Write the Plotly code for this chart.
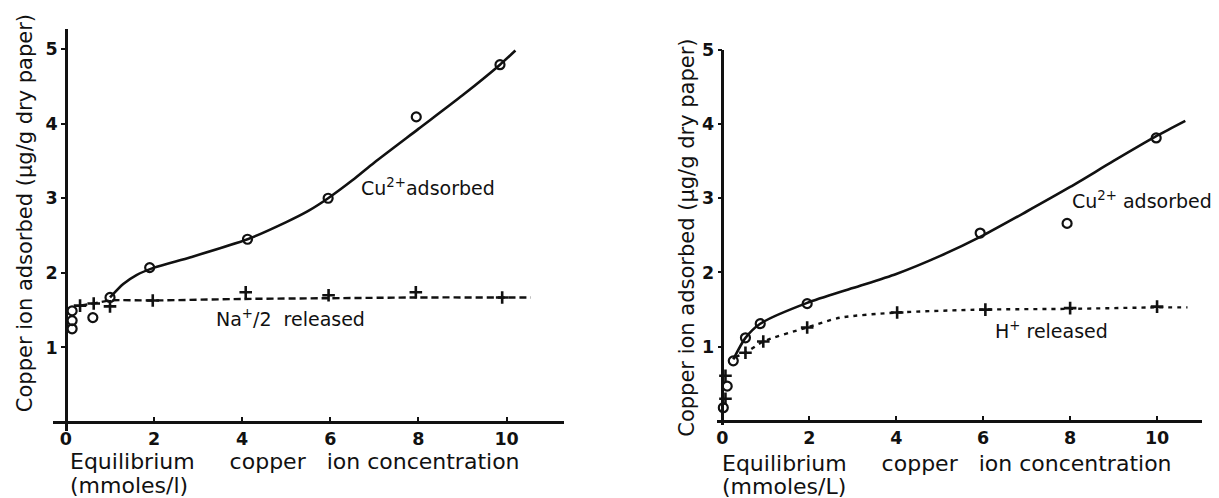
import plotly.graph_objects as go

W, H = 1219, 498

# ---------------- Left panel data (Na+ form paper) ----------------
left_cu_x = [0.14, 0.14, 0.14, 0.61, 1.0, 1.9, 4.12, 5.95, 7.95, 9.85]
left_cu_y = [1.25, 1.36, 1.49, 1.40, 1.67, 2.07, 2.45, 3.00, 4.09, 4.79]
left_na_x = [0.32, 0.63, 1.0, 1.97, 4.08, 5.96, 7.94, 9.9]
left_na_y = [1.56, 1.59, 1.55, 1.63, 1.74, 1.70, 1.74, 1.67]
left_cu_curve_x = [1.0, 1.3, 1.6, 2.0, 2.83, 4.12, 5.0, 5.5, 5.95, 6.5, 7.0, 8.0, 9.0, 9.85, 10.2]
left_cu_curve_y = [1.67, 1.85, 1.97, 2.07, 2.21, 2.45, 2.68, 2.83, 3.00, 3.24, 3.48, 3.93, 4.38, 4.79, 4.98]
left_na_curve_x = [0.32, 0.63, 1.0, 2.0, 4.0, 6.0, 8.0, 10.0, 10.55]
left_na_curve_y = [1.56, 1.59, 1.63, 1.63, 1.65, 1.66, 1.67, 1.67, 1.67]

# ---------------- Right panel data (H+ form paper) ----------------
right_cu_x = [0.02, 0.11, 0.25, 0.53, 0.87, 1.95, 5.93, 7.93, 9.98]
right_cu_y = [0.18, 0.47, 0.81, 1.12, 1.31, 1.58, 2.53, 2.66, 3.81]
right_h_x = [0.07, 0.07, 0.53, 0.94, 1.95, 4.02, 6.05, 8.0, 10.0]
right_h_y = [0.30, 0.61, 0.92, 1.07, 1.26, 1.46, 1.50, 1.52, 1.54]
right_cu_curve_x = [0.25, 0.53, 0.87, 1.95, 3.0, 4.0, 5.0, 6.0, 7.0, 8.0, 9.0, 10.0, 10.65]
right_cu_curve_y = [0.83, 1.12, 1.31, 1.59, 1.79, 1.98, 2.22, 2.50, 2.82, 3.15, 3.50, 3.84, 4.04]
right_h_curve_x = [0.30, 0.53, 0.94, 1.95, 2.7, 4.0, 6.0, 8.0, 10.0, 10.7]
right_h_curve_y = [0.86, 0.92, 1.07, 1.26, 1.39, 1.46, 1.50, 1.51, 1.53, 1.53]

x_ticks = [0, 2, 4, 6, 8, 10]
y_ticks = [1, 2, 3, 4, 5]

y_title = "Copper ion adsorbed (\u03bcg/g dry paper)"
x_title_line1 = "Equilibrium\u00a0\u00a0\u00a0\u00a0 copper\u00a0\u00a0 ion concentration"
x_title_line2_left = "(mmoles/l)"
x_title_line2_right = "(mmoles/L)"

INK = "#111111"
FONT = "DejaVu Sans"

# calibration of page pixels -> paper fractions
OFF_X, OFF_Y, PH = 8.0, 18.6, 486.0

def px(X):
    return (X - OFF_X) / W

def py(Y):
    return 1 - (Y - OFF_Y) / PH

fig = go.Figure()

def circles(x, y, xa, ya):
    return go.Scatter(x=x, y=y, mode="markers", xaxis=xa, yaxis=ya,
                      marker=dict(symbol="circle-open", size=9, color=INK,
                                  line=dict(width=2.2, color=INK)),
                      showlegend=False, hoverinfo="skip")

def pluses(x, y, xa, ya):
    return go.Scatter(x=x, y=y, mode="markers", xaxis=xa, yaxis=ya,
                      marker=dict(symbol="cross-thin", size=9, color=INK,
                                  line=dict(width=2.6, color=INK)),
                      showlegend=False, hoverinfo="skip")

def curve(x, y, xa, ya, dash, width):
    return go.Scatter(x=x, y=y, mode="lines", xaxis=xa, yaxis=ya,
                      line=dict(color=INK, width=width, dash=dash, shape="spline", smoothing=0.7),
                      showlegend=False, hoverinfo="skip")

fig.add_trace(curve(left_cu_curve_x, left_cu_curve_y, "x", "y", "solid", 2.6))
fig.add_trace(curve(left_na_curve_x, left_na_curve_y, "x", "y", "7px,4px", 2.4))
fig.add_trace(circles(left_cu_x, left_cu_y, "x", "y"))
fig.add_trace(pluses(left_na_x, left_na_y, "x", "y"))

fig.add_trace(curve(right_cu_curve_x, right_cu_curve_y, "x2", "y2", "solid", 2.6))
fig.add_trace(curve(right_h_curve_x, right_h_curve_y, "x2", "y2", "4px,5px", 2.4))
fig.add_trace(circles(right_cu_x, right_cu_y, "x2", "y2"))
fig.add_trace(pluses(right_h_x, right_h_y, "x2", "y2"))

tickfont = dict(family=FONT, size=17.5, color=INK, weight="bold")

def xax(dom, rng, pos):
    return dict(domain=dom, range=rng, anchor="free", position=pos,
                showline=True, linewidth=2.7, linecolor=INK,
                ticks="inside", ticklen=4, tickwidth=2, tickcolor=INK,
                tickvals=x_ticks, tickfont=tickfont, showgrid=False, zeroline=False,
                fixedrange=True)

def yax(dom, rng, pos):
    return dict(domain=dom, range=rng, anchor="free", position=pos,
                showline=True, linewidth=2.5, linecolor=INK,
                ticks="outside", ticklen=4, tickwidth=2, tickcolor=INK,
                tickvals=y_ticks, tickfont=tickfont, showgrid=False, zeroline=False,
                fixedrange=True)

# target pixel geometry (origin pixel and pixels per unit)
L_x0, L_sx, L_y0, L_sy = 65, 44.1, 421, 74.3
R_x0, R_sx, R_y0, R_sy = 722, 43.5, 420, 74.0
L_xr, L_yr = [-0.3, 11.3], [-0.12, 5.27]
R_xr, R_yr = [-0.12, 11.03], [-0.05, 5.0]

def xdom(x0, sx, r):
    return [px(x0 + r[0] * sx), px(x0 + r[1] * sx)]

def ydom(y0, sy, r):
    return [py(y0 - r[0] * sy), py(y0 - r[1] * sy)]

fig.update_layout(
    width=W, height=H,
    margin=dict(l=0, r=0, t=0, b=0),
    paper_bgcolor="white", plot_bgcolor="rgba(0,0,0,0)",
    font=dict(family=FONT, color=INK),
    xaxis=xax(xdom(L_x0, L_sx, L_xr), L_xr, py(L_y0)),
    yaxis=yax(ydom(L_y0, L_sy, L_yr), L_yr, px(L_x0)),
    xaxis2=xax(xdom(R_x0, R_sx, R_xr), R_xr, py(R_y0)),
    yaxis2=yax(ydom(R_y0, R_sy, R_yr), R_yr, px(R_x0)),
)

lab = dict(family=FONT, size=19, color=INK)
ttl = dict(family=FONT, size=21, color=INK)
ttlx = dict(family=FONT, size=22, color=INK)
ann = [
    dict(x=6.65, y=3.15, xref="x", yref="y", text="Cu<sup>2+</sup>adsorbed",
         xanchor="left", yanchor="middle", showarrow=False, font=lab),
    dict(x=3.36, y=1.39, xref="x", yref="y", text="Na<sup>+</sup>/2\u00a0 released",
         xanchor="left", yanchor="middle", showarrow=False, font=lab),
    dict(x=8.0, y=2.97, xref="x2", yref="y2", text="Cu<sup>2+</sup> adsorbed",
         xanchor="left", yanchor="middle", showarrow=False, font=lab),
    dict(x=6.23, y=1.22, xref="x2", yref="y2", text="H<sup>+</sup> released",
         xanchor="left", yanchor="middle", showarrow=False, font=lab),
    dict(x=px(24), y=py(213), xref="paper", yref="paper", text=y_title,
         textangle=-90, showarrow=False, xanchor="center", yanchor="middle", font=ttl),
    dict(x=px(687), y=py(237), xref="paper", yref="paper", text=y_title,
         textangle=-90, showarrow=False, xanchor="center", yanchor="middle", font=ttl),
    dict(x=px(68), y=py(460), xref="paper", yref="paper", text=x_title_line1,
         showarrow=False, xanchor="left", yanchor="middle", font=ttlx, borderpad=0),
    dict(x=px(68), y=py(484), xref="paper", yref="paper", text=x_title_line2_left,
         showarrow=False, xanchor="left", yanchor="middle", font=ttlx, borderpad=0),
    dict(x=px(721), y=py(462), xref="paper", yref="paper", text=x_title_line1,
         showarrow=False, xanchor="left", yanchor="middle", font=ttlx, borderpad=0),
    dict(x=px(721), y=py(485), xref="paper", yref="paper", text=x_title_line2_right,
         showarrow=False, xanchor="left", yanchor="middle", font=ttlx, borderpad=0),
]
fig.update_layout(annotations=ann)

fig.write_html("out.html")
